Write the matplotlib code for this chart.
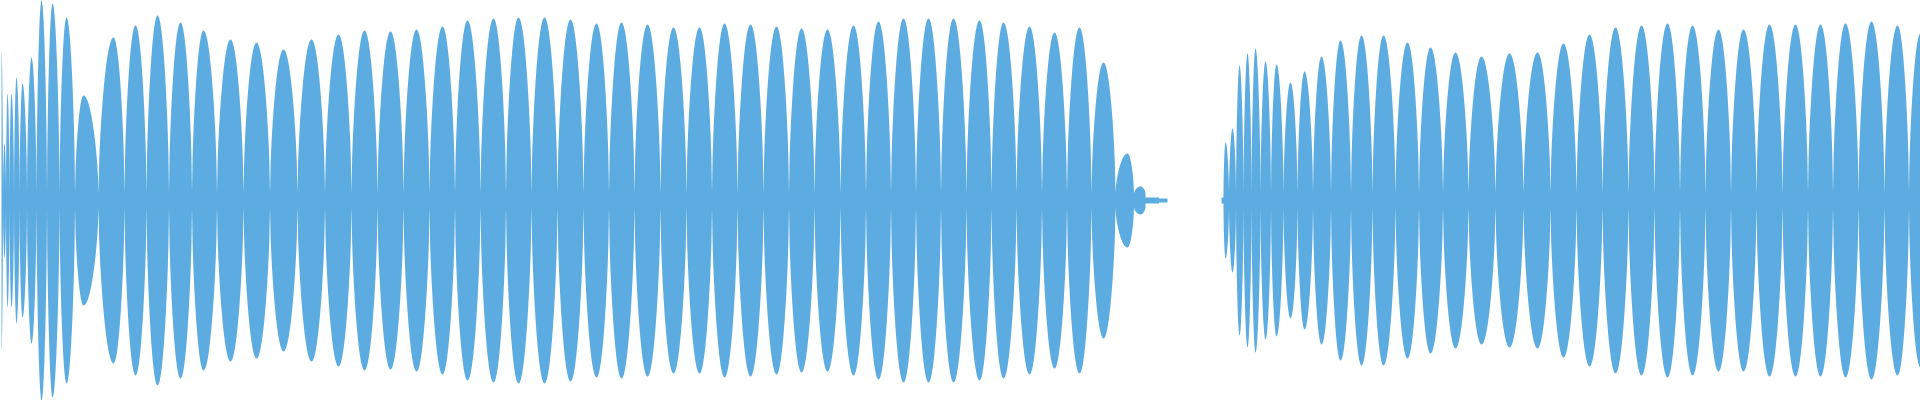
import numpy as np
import matplotlib
matplotlib.use("Agg")
import matplotlib.pyplot as plt

# ── waveform envelope (pixel x, amplitude in px, 200 = full scale)
seg1_x = [1, 4, 7, 11, 16, 22, 31, 41, 52, 66, 83, 113, 135, 157, 180, 203, 230, 256, 283,
          311, 338, 364, 390, 416, 442, 467, 493, 518, 544, 570, 596, 621, 647, 673, 699,
          724, 750, 776, 801, 827, 853, 878, 903, 928, 953, 979, 1003, 1029, 1054, 1079,
          1103, 1127, 1140, 1150, 1167]
seg1_amp = [150, 57, 107, 107, 123, 117, 143, 200, 197, 183, 105, 163, 175, 185, 178, 170,
            161, 158, 151, 161, 166, 170, 169, 171, 174, 180, 182, 183, 183, 181, 177, 178,
            176, 173, 173, 177, 176, 174, 172, 171, 175, 179, 182, 182, 182, 180, 178, 174,
            168, 173, 138, 47, 14, 3, 2]

seg2_x = [1221, 1225, 1232, 1239, 1247, 1255, 1265, 1276, 1290, 1304, 1321, 1340, 1361, 1383,
          1407, 1430, 1455, 1481, 1509, 1537, 1563, 1589, 1615, 1641, 1667, 1692, 1718,
          1743, 1769, 1795, 1820, 1845, 1871, 1897, 1920]
seg2_amp = [3, 58, 72, 135, 147, 152, 139, 136, 118, 129, 144, 160, 165, 165, 158, 153, 148,
            144, 147, 148, 157, 166, 173, 175, 177, 175, 171, 171, 176, 176, 176, 177, 179,
            175, 167]

BASE = 7  # thin band between lobes
COLOR = "#5DACE1"


def envelope(xc, amp):
    xc = np.asarray(xc, float)
    amp = np.asarray(amp, float)
    waists = np.concatenate([[xc[0]], (xc[:-1] + xc[1:]) / 2, [xc[-1]]])
    xs, ys = [], []
    for i in range(len(xc)):
        lo, hi = waists[i], waists[i + 1]
        if hi <= lo:
            continue
        xx = np.linspace(lo, hi, 40)
        left = xx <= xc[i]
        ph = np.where(left,
                      (xx - lo) / max(xc[i] - lo, 1e-6) * 0.5,
                      0.5 + (xx - xc[i]) / max(hi - xc[i], 1e-6) * 0.5)
        base = min(BASE, amp[i])
        yy = base + (amp[i] - base) * np.sin(np.pi * ph) ** 0.6
        xs.append(xx)
        ys.append(yy)
    return np.concatenate(xs), np.concatenate(ys)


fig = plt.figure(figsize=(19.2, 4.0), dpi=100)
ax = fig.add_axes([0, 0, 1, 1])
for sx, sa in [(seg1_x, seg1_amp), (seg2_x, seg2_amp)]:
    ex, ey = envelope(sx, sa)
    ax.fill_between(ex, -ey, ey, color=COLOR, lw=0)
ax.set_xlim(0, 1920)
ax.set_ylim(-200, 200)
ax.axis("off")
fig.savefig("out.png", dpi=100)
